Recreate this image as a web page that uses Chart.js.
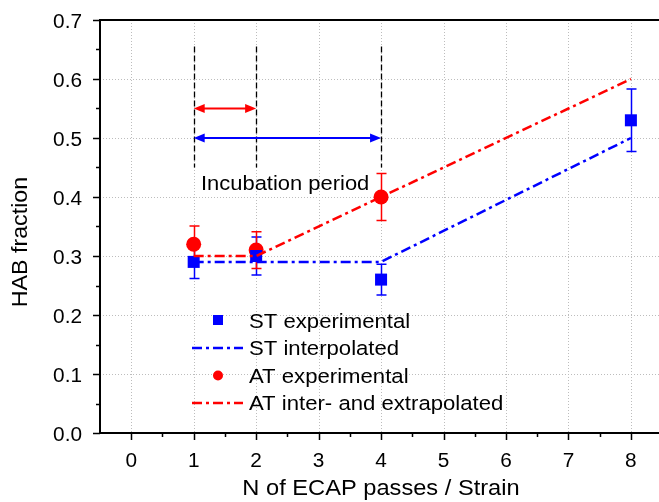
<!DOCTYPE html>
<html>
<head>
<meta charset="utf-8">
<script src="https://cdn.jsdelivr.net/npm/chart.js@4.4.1/dist/chart.umd.min.js"></script>
<style>
  html, body { margin: 0; padding: 0; background: #fff; }
  #wrap { width: 659px; height: 502px; }
</style>
</head>
<body>
<div id="wrap"><canvas id="chart"></canvas></div>
<script>
// data
const stPasses = [1, 2, 4, 8];
const stValues = [0.29, 0.30, 0.26, 0.53];
const stErrors = [0.028, 0.032, 0.026, 0.053];

const atPasses = [1, 2, 4];
const atValues = [0.32, 0.31, 0.40];
const atErrors = [0.031, 0.031, 0.04];

const stLinePasses = [1, 2, 4, 8];
const stLineValues = [0.29, 0.29, 0.29, 0.50];
const atLinePasses = [1, 2, 4, 8];
const atLineValues = [0.30, 0.30, 0.40, 0.60];

const xTicks = [0, 1, 2, 3, 4, 5, 6, 7, 8];
const yTicks = [0, 0.1, 0.2, 0.3, 0.4, 0.5, 0.6, 0.7];

// incubation period marks
const markerPasses = [1, 2, 4];
const markerRange = [0.45, 0.655];
const redArrow = [1, 2, 0.55];
const blueArrow = [1, 4, 0.5];

const legendLabels = ['ST experimental', 'ST interpolated', 'AT experimental', 'AT inter- and extrapolated'];

const FONT = '"Liberation Sans", Arial, sans-serif';
const BLUE = '#0000ff';
const RED = '#ff0000';
const DASH = [10, 4, 3, 4];

const toPoints = (xs, ys) => xs.map((x, i) => ({ x: x, y: ys[i] }));

// text with a slight horizontal stretch, like the original export
function drawText(ctx, text, x, y, size, align, sx, rot) {
    ctx.save();
    ctx.translate(x, y);
    if (rot) ctx.rotate(rot);
    ctx.scale(sx, 1);
    ctx.font = size + 'px ' + FONT;
    ctx.textAlign = align;
    ctx.textBaseline = 'alphabetic';
    ctx.fillStyle = '#000';
    ctx.fillText(text, 0, 0);
    ctx.restore();
}

function arrowHead(ctx, x, y, dir, color) {
    ctx.fillStyle = color;
    ctx.beginPath();
    ctx.moveTo(x, y);
    ctx.lineTo(x - dir * 11, y - 4.5);
    ctx.lineTo(x - dir * 11, y + 4.5);
    ctx.closePath();
    ctx.fill();
}

const backPlugin = {
    id: 'back',
    beforeDatasetsDraw(chart) {
        const ctx = chart.ctx;
        const xs = chart.scales.x, ys = chart.scales.y;
        const area = chart.chartArea;
        ctx.save();
        // dotted grid
        ctx.strokeStyle = '#bdbdbd';
        ctx.lineWidth = 1;
        ctx.setLineDash([1, 2]);
        xTicks.forEach(v => {
            const px = Math.round(xs.getPixelForValue(v)) + 0.5;
            ctx.beginPath(); ctx.moveTo(px, area.top); ctx.lineTo(px, area.bottom); ctx.stroke();
        });
        yTicks.forEach(v => {
            if (v === 0 || v === 0.7) return;
            const py = Math.round(ys.getPixelForValue(v)) + 0.5;
            ctx.beginPath(); ctx.moveTo(area.left, py); ctx.lineTo(chart.width, py); ctx.stroke();
        });
        ctx.setLineDash([]);

        // incubation dashed verticals
        ctx.strokeStyle = '#000';
        ctx.lineWidth = 1.3;
        ctx.setLineDash([6, 3]);
        markerPasses.forEach(v => {
            const px = Math.round(xs.getPixelForValue(v)) + 0.5;
            ctx.beginPath();
            ctx.moveTo(px, ys.getPixelForValue(markerRange[1]));
            ctx.lineTo(px, ys.getPixelForValue(markerRange[0]));
            ctx.stroke();
        });
        ctx.setLineDash([]);

        // arrows
        [[redArrow, RED], [blueArrow, BLUE]].forEach(([a, color]) => {
            const x1 = xs.getPixelForValue(a[0]), x2 = xs.getPixelForValue(a[1]);
            const py = ys.getPixelForValue(a[2]);
            ctx.strokeStyle = color;
            ctx.lineWidth = 2;
            ctx.beginPath(); ctx.moveTo(x1 + 8, py); ctx.lineTo(x2 - 8, py); ctx.stroke();
            arrowHead(ctx, x1, py, -1, color);
            arrowHead(ctx, x2, py, 1, color);
        });

        drawText(ctx, 'Incubation period', 201, 190, 20.5, 'left', 1.07);

        // error bars
        const drawErr = (xsArr, vals, errs, color) => {
            ctx.strokeStyle = color;
            ctx.lineWidth = 1.5;
            xsArr.forEach((x, i) => {
                const px = Math.round(xs.getPixelForValue(x)) + 0.5;
                const top = ys.getPixelForValue(vals[i] + errs[i]);
                const bot = ys.getPixelForValue(vals[i] - errs[i]);
                ctx.beginPath();
                ctx.moveTo(px, top); ctx.lineTo(px, bot);
                ctx.moveTo(px - 5, top); ctx.lineTo(px + 5, top);
                ctx.moveTo(px - 5, bot); ctx.lineTo(px + 5, bot);
                ctx.stroke();
            });
        };
        drawErr(stPasses, stValues, stErrors, BLUE);
        drawErr(atPasses, atValues, atErrors, RED);
        ctx.restore();
    },
    afterDraw(chart) {
        const ctx = chart.ctx;
        const xs = chart.scales.x, ys = chart.scales.y;
        const area = chart.chartArea;
        ctx.save();
        ctx.strokeStyle = '#000';
        ctx.lineWidth = 2;
        // axes frame
        ctx.beginPath();
        ctx.moveTo(area.left, area.top); ctx.lineTo(chart.width, area.top);
        ctx.moveTo(area.left, area.top - 1); ctx.lineTo(area.left, area.bottom + 1);
        ctx.moveTo(area.left - 1, area.bottom); ctx.lineTo(chart.width, area.bottom);
        ctx.stroke();
        // major and minor ticks
        ctx.lineWidth = 1.5;
        ctx.beginPath();
        for (let k = 0; k <= 17; k++) {
            const v = -0.5 + k * 0.5;
            const px = Math.round(xs.getPixelForValue(v)) + 0.5;
            if (px <= area.left + 2) continue;
            const major = k % 2 === 1;
            ctx.moveTo(px, area.bottom); ctx.lineTo(px, area.bottom + (major ? 7 : 4));
        }
        for (let k = 0; k <= 14; k++) {
            const py = Math.round(ys.getPixelForValue(k * 0.05)) + 0.5;
            const major = k % 2 === 0;
            ctx.moveTo(area.left, py); ctx.lineTo(area.left - (major ? 7 : 4), py);
        }
        ctx.stroke();

        // tick labels
        xTicks.forEach(v => drawText(ctx, String(v), xs.getPixelForValue(v), 467, 20, 'center', 1.04));
        yTicks.forEach(v => drawText(ctx, v.toFixed(1), 82, ys.getPixelForValue(v) + 7.5, 20, 'right', 1.04));

        // axis titles
        drawText(ctx, 'N of ECAP passes / Strain', 381, 495, 21.5, 'center', 1.1);
        drawText(ctx, 'HAB fraction', 27, 242, 21.5, 'center', 1.08, -Math.PI / 2);

        // legend
        const rows = [328, 355, 382.5, 410];
        ctx.fillStyle = BLUE;
        ctx.fillRect(213, 315, 10, 10);
        ctx.fillStyle = RED;
        ctx.beginPath(); ctx.arc(218, 375.5, 5, 0, Math.PI * 2); ctx.fill();
        ctx.lineWidth = 2.5;
        ctx.setLineDash(DASH);
        ctx.strokeStyle = BLUE;
        ctx.beginPath(); ctx.moveTo(192, 348); ctx.lineTo(243, 348); ctx.stroke();
        ctx.strokeStyle = RED;
        ctx.beginPath(); ctx.moveTo(192, 403); ctx.lineTo(243, 403); ctx.stroke();
        ctx.setLineDash([]);
        legendLabels.forEach((t, i) => drawText(ctx, t, 249, rows[i], 20.5, 'left', 1.08));
        ctx.restore();
    }
};

const ctx = document.getElementById('chart').getContext('2d');
new Chart(ctx, {
    type: 'scatter',
    data: {
        datasets: [
            {
                label: 'ST interpolated',
                data: toPoints(stLinePasses, stLineValues),
                showLine: true,
                borderColor: BLUE,
                borderWidth: 2.5,
                borderDash: DASH,
                pointRadius: 0,
                fill: false,
            },
            {
                label: 'AT inter- and extrapolated',
                data: toPoints(atLinePasses, atLineValues),
                showLine: true,
                borderColor: RED,
                borderWidth: 2.5,
                borderDash: DASH,
                pointRadius: 0,
                fill: false,
            },
            {
                label: 'ST experimental',
                data: toPoints(stPasses, stValues),
                pointStyle: 'rect',
                pointRadius: 8.5,
                backgroundColor: BLUE,
                borderColor: BLUE,
                borderWidth: 0,
            },
            {
                label: 'AT experimental',
                data: toPoints(atPasses, atValues),
                pointStyle: 'circle',
                pointRadius: 7.5,
                backgroundColor: RED,
                borderColor: RED,
                borderWidth: 0,
            },
        ],
    },
    options: {
        responsive: true,
        maintainAspectRatio: false,
        animation: false,
        layout: { autoPadding: false, padding: { top: 20, right: 0, bottom: 0, left: 0 } },
        plugins: {
            legend: { display: false },
            tooltip: { enabled: false },
        },
        scales: {
            x: {
                type: 'linear',
                min: -0.5,
                max: 8.45,
                afterFit: (s) => { s.height = 69; },
                grid: { display: false, drawTicks: false },
                border: { display: false },
                ticks: { display: false },
            },
            y: {
                type: 'linear',
                min: 0,
                max: 0.7,
                afterFit: (s) => { s.width = 100; },
                grid: { display: false, drawTicks: false },
                border: { display: false },
                ticks: { display: false },
            },
        },
    },
    plugins: [backPlugin],
});
</script>
</body>
</html>
